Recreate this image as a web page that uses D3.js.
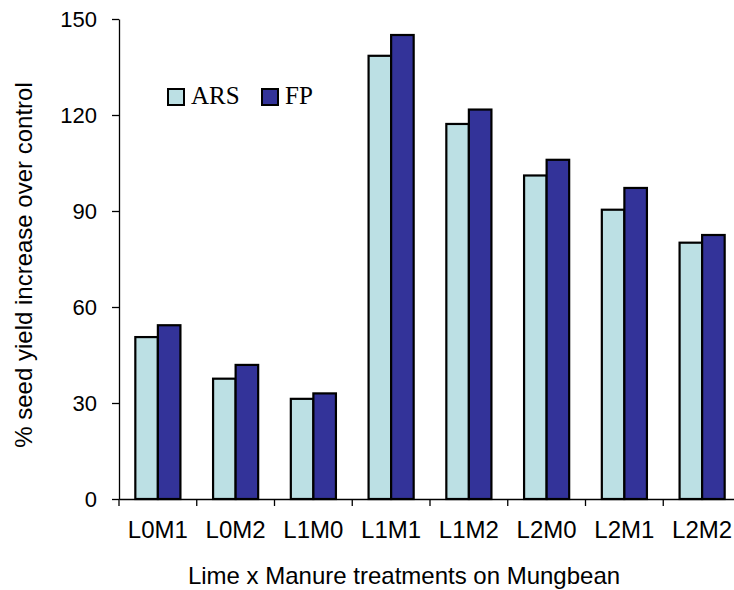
<!DOCTYPE html>
<html>
<head>
<meta charset="utf-8">
<script src="https://cdn.jsdelivr.net/npm/d3@7"></script>
<style>
  html, body { margin: 0; padding: 0; background: #fff; }
  svg { display: block; }
</style>
</head>
<body>
<svg id="chart" width="734" height="590"></svg>
<script>
const categories = ["L0M1", "L0M2", "L1M0", "L1M1", "L1M2", "L2M0", "L2M1", "L2M2"];
const seriesNames = ["ARS", "FP"];
const arsValues = [50.6, 37.6, 31.3, 138.5, 117.2, 101.1, 90.4, 80.1];
const fpValues = [54.3, 41.9, 33.0, 145.0, 121.7, 106.0, 97.2, 82.5];
const yTicks = [0, 30, 60, 90, 120, 150];
const colors = ["#BCE0E4", "#333399"];

(function () {
const svg = d3.select("#chart");
const plotLeft = 119, plotRight = 741, plotTop = 19, plotBottom = 499;

const x0 = d3.scaleBand().domain(categories).range([plotLeft, plotRight])
  .paddingInner(0.42).paddingOuter(0.21);
const x1 = d3.scaleBand().domain(seriesNames).range([0, x0.bandwidth()]);
const y = d3.scaleLinear().domain([0, 150]).range([plotBottom, plotTop]);
const color = d3.scaleOrdinal().domain(seriesNames).range(colors);

const data = categories.map((c, i) => ({ cat: c, vals: [
  { s: "ARS", v: arsValues[i] }, { s: "FP", v: fpValues[i] } ] }));

// bars
const groups = svg.append("g").selectAll("g").data(data).join("g")
  .attr("transform", d => `translate(${x0(d.cat)},0)`);
groups.selectAll("rect").data(d => d.vals).join("rect")
  .attr("x", d => x1(d.s))
  .attr("y", d => y(d.v))
  .attr("width", x1.bandwidth())
  .attr("height", d => y(0) - y(d.v))
  .attr("fill", d => color(d.s))
  .attr("stroke", "#000")
  .attr("stroke-width", 2.2);

// y axis
const yAxis = d3.axisLeft(y).tickValues(yTicks).tickSize(7).tickPadding(15).tickSizeOuter(0);
const gy = svg.append("g").attr("transform", `translate(${plotLeft},0)`).call(yAxis);
gy.select(".domain").attr("stroke", "#000").attr("stroke-width", 1.3);
gy.selectAll(".tick line").attr("stroke", "#000").attr("stroke-width", 1.3);
gy.selectAll(".tick text").attr("font-family", "Liberation Sans, Arial, sans-serif")
  .attr("font-size", 22).attr("fill", "#000");

// x axis line & boundary ticks
const xAxis = d3.axisBottom(x0).tickSize(0).tickPadding(22).tickSizeOuter(0);
const gx = svg.append("g").attr("transform", `translate(0,${plotBottom})`).call(xAxis);
gx.select(".domain").attr("stroke", "#000").attr("stroke-width", 1.3);
gx.selectAll(".tick text").attr("font-family", "Liberation Sans, Arial, sans-serif")
  .attr("font-size", 24).attr("fill", "#000").attr("dy", "0.71em");
const boundaries = categories.map(c => x0(c) - x0.step() * x0.paddingInner() / 2);
boundaries.push(plotRight);
svg.append("g").selectAll("line").data(boundaries).join("line")
  .attr("x1", d => d).attr("x2", d => d)
  .attr("y1", plotBottom).attr("y2", plotBottom + 7)
  .attr("stroke", "#000").attr("stroke-width", 1.3);

// axis titles
svg.append("text")
  .attr("x", (plotLeft + plotRight) / 2 - 26).attr("y", 584)
  .attr("text-anchor", "middle")
  .attr("font-family", "Liberation Sans, Arial, sans-serif").attr("font-size", 24)
  .text("Lime x Manure treatments on Mungbean");
svg.append("text")
  .attr("transform", "translate(32,265) rotate(-90)")
  .attr("text-anchor", "middle")
  .attr("font-family", "Liberation Sans, Arial, sans-serif").attr("font-size", 24)
  .text("% seed yield increase over control");

// legend
const legendX = [168, 262];
const legend = svg.append("g").selectAll("g").data(seriesNames).join("g")
  .attr("transform", (d, i) => `translate(${legendX[i]},89)`);
legend.append("rect").attr("width", 16).attr("height", 16)
  .attr("fill", d => color(d)).attr("stroke", "#000").attr("stroke-width", 2);
legend.append("text").attr("x", 23).attr("y", 15)
  .attr("font-family", "Liberation Serif, Times New Roman, serif").attr("font-size", 25)
  .text(d => d);
})();
</script>
</body>
</html>
